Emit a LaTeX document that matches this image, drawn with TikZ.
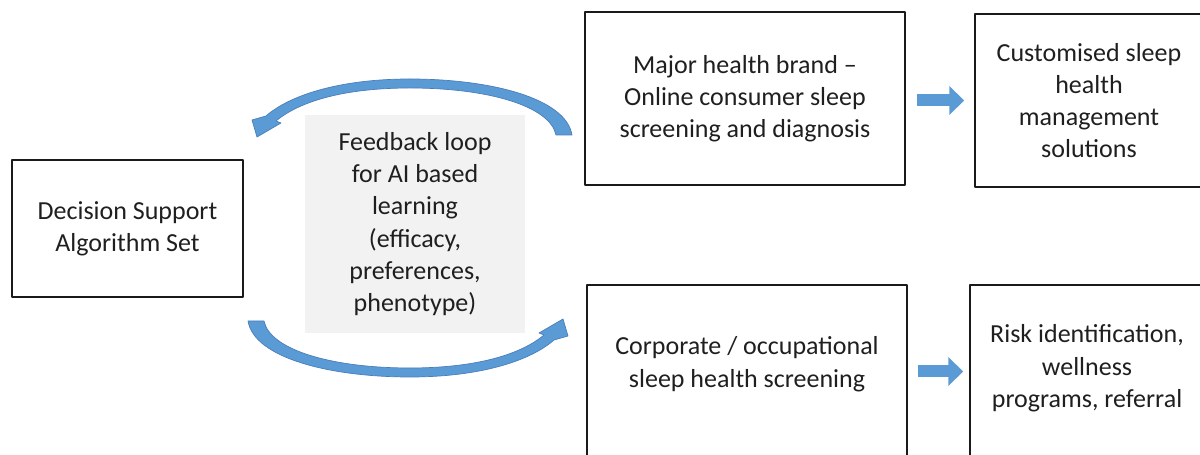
\documentclass[tikz,border=0pt]{standalone}
\usepackage{fontspec}
\setmainfont{Carlito}
\usetikzlibrary{arrows.meta}
\usetikzlibrary{calc}
\usetikzlibrary{positioning}
\definecolor{arrowblue}{HTML}{5B9BD5}
\definecolor{arrowedge}{HTML}{4A7EBB}
\definecolor{loopgray}{HTML}{F2F2F2}
\definecolor{boxline}{HTML}{1A1A1A}
\begin{document}
\begin{tikzpicture}[line cap=round,line join=round,x=0.02cm,y=-0.02cm,
  box/.style={draw=boxline,line width=0.85pt,inner sep=0pt},
  txt/.style={align=center,font=\fontsize{14.8}{18.3}\selectfont,text=black!88},
  blockarrow/.style={arrowblue,line width=0.24cm,line cap=butt,-{Triangle[length=0.3cm,width=0.56cm]}},
  curvearrow/.style={fill=arrowblue,draw=arrowedge,line width=0.4pt}]
% Draw region settings
\useasboundingbox (0,0) rectangle (1200,455);
\clip (0,0) rectangle (1200,455);
% Left box
\node[box,txt,minimum width=4.62cm,minimum height=2.74cm] (dss) at (127.5,228.5) {Decision Support\\Algorithm Set};
% Feedback loop
\node[txt,fill=loopgray,inner sep=0pt,minimum width=4.4cm,minimum height=4.36cm] (loop) at (415,224) {Feedback loop\\for AI based\\learning\\(efficacy,\\preferences,\\phenotype)};
% Upper row
\node[box,txt,minimum width=6.4cm,minimum height=3.46cm] (major) at (745,98.5) {Major health brand --\\Online consumer sleep\\screening and diagnosis};
\node[box,txt,minimum width=4.56cm,minimum height=3.46cm] (custom) at (1089,100.5) {Customised sleep\\health\\management\\solutions};
% Lower row
\node[box,minimum width=6.4cm,minimum height=3.46cm] (corp) at (747,371.5) {};
\node[txt,below=1.6cm of corp.north,anchor=center] (corptext) {Corporate / occupational\\sleep health screening};
\node[box,minimum width=4.68cm,minimum height=3.46cm] (risk) at (1087,371.5) {};
\node[txt,below=1.68cm of risk.north,anchor=center] (risktext) {Risk identification,\\wellness\\programs, referral};
% Block arrows
\draw[blockarrow] ($(major.east)+(11,2)$) -- ($(custom.west)+(-10,0)$);
\draw[blockarrow] ($(corp.east)+(10,0)$) -- ($(risk.west)+(-6,0)$);
% Curved arrows
\path[curvearrow] (572,135) .. controls (566,98) and (490,79) .. (410,79) .. controls (340,79) and (290,95) .. (266,116) -- (252,120) -- (257,137) -- (281,123) -- (276,121) .. controls (300,101) and (345,88) .. (410,88) .. controls (488,88) and (550,106) .. (556,135) -- cycle;
\begin{scope}[rotate around={180:(410,228)}]
\path[curvearrow] (572,135) .. controls (566,98) and (490,79) .. (410,79) .. controls (340,79) and (290,95) .. (266,116) -- (252,120) -- (257,137) -- (281,123) -- (276,121) .. controls (300,101) and (345,88) .. (410,88) .. controls (488,88) and (550,106) .. (556,135) -- cycle;
\end{scope}
\end{tikzpicture}
\end{document}
